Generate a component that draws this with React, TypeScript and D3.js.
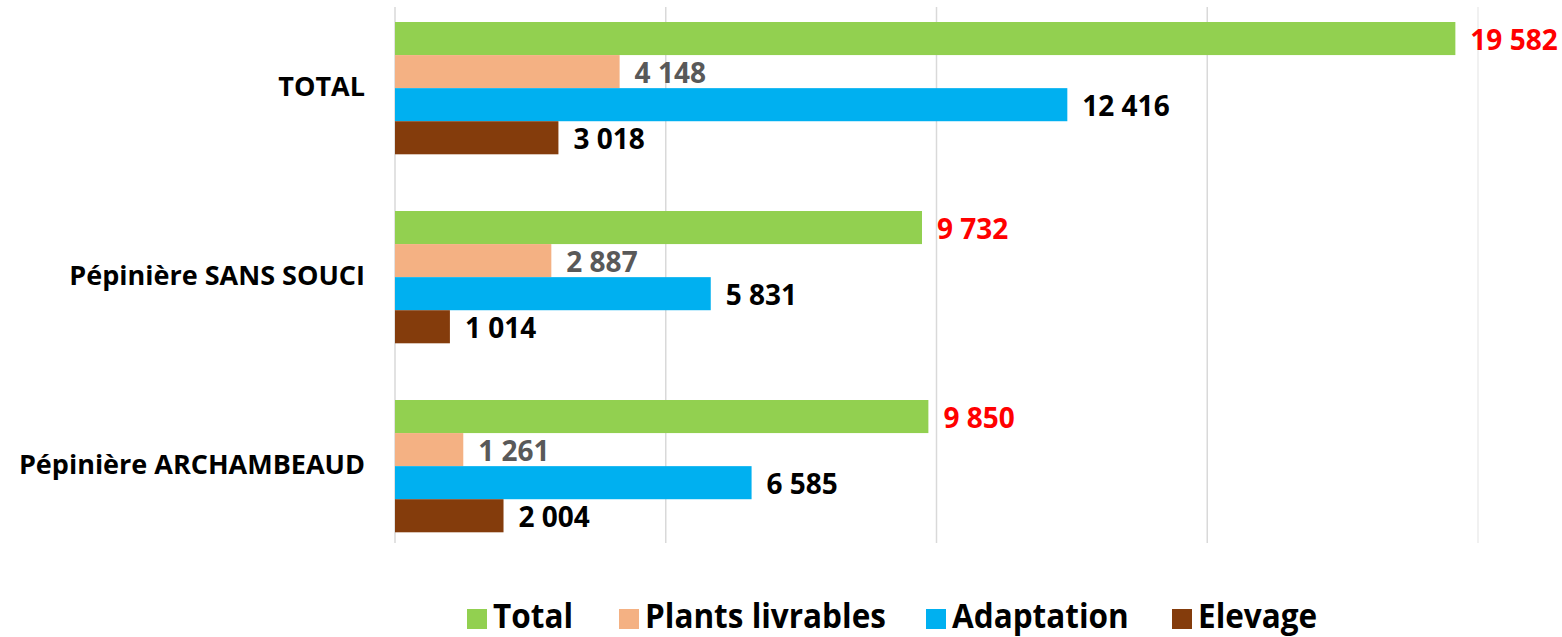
import React from "react";
import * as d3 from "d3";

const categories = ["TOTAL", "Pépinière SANS SOUCI", "Pépinière ARCHAMBEAUD"];
const seriesNames = ["Total", "Plants livrables", "Adaptation", "Elevage"];
const totalValues = [19582, 9732, 9850];
const plantsValues = [4148, 2887, 1261];
const adaptationValues = [12416, 5831, 6585];
const elevageValues = [3018, 1014, 2004];
const xTicks = [0, 5000, 10000, 15000, 20000];

const colors = ["#92D050", "#F4B183", "#00B0F0", "#843C0C"];
const labelColors = ["#FF0000", "#595959", "#000000", "#000000"];

const W = 1562;
const H = 637;
const FONT = "'Open Sans', Lato, sans-serif";

const fmt = (v: number) => d3.format(",")(v).replace(/,/g, " ");

export default function App() {
  const series = [totalValues, plantsValues, adaptationValues, elevageValues];
  const x = d3.scaleLinear().domain([0, 20000]).range([395, 1478]);
  const y = d3
    .scaleBand<string>()
    .domain(categories)
    .range([22, 532.3])
    .paddingInner(0.3)
    .paddingOuter(0);
  const inner = d3
    .scaleBand<string>()
    .domain(seriesNames)
    .range([0, y.bandwidth()])
    .padding(0);

  const legendX = [467, 619, 926, 1172];
  const legendBaseline = 628;

  return (
    <svg
      width={W}
      height={H}
      style={{ position: "absolute", left: 0, top: 0, background: "#fff" }}
      fontFamily={FONT}
    >
      <rect width={W} height={H} fill="#fff" />
      {xTicks.map((t) => (
        <line
          key={t}
          x1={x(t)}
          x2={x(t)}
          y1={7}
          y2={543}
          stroke={t === 20000 ? "#ececec" : "#d9d9d9"}
          strokeWidth={1.5}
        />
      ))}
      {categories.map((c, ci) => (
        <g key={c}>
          <text
            x={365}
            y={(y(c) as number) + y.bandwidth() / 2 - 3}
            textAnchor="end"
            dominantBaseline="central"
            fontWeight="bold"
            fontSize={27}
            fill="#000"
          >
            {c}
          </text>
          {seriesNames.map((s, si) => {
            const v = series[si][ci];
            const by = (y(c) as number) + (inner(s) as number);
            return (
              <g key={s}>
                <rect
                  x={x(0)}
                  y={by}
                  width={x(v) - x(0)}
                  height={inner.bandwidth()}
                  fill={colors[si]}
                />
                <text
                  x={x(v) + 15}
                  y={by + inner.bandwidth() / 2}
                  dominantBaseline="central"
                  fontWeight="bold"
                  fontSize={28}
                  fill={labelColors[si]}
                >
                  {fmt(v)}
                </text>
              </g>
            );
          })}
        </g>
      ))}
      {seriesNames.map((s, si) => (
        <g key={s}>
          <rect x={legendX[si]} y={609} width={20} height={20} fill={colors[si]} />
          <text
            x={0}
            y={0}
            fontWeight="bold"
            fontSize={31.5}
            fill="#000"
            transform={`translate(${legendX[si] + 26},${legendBaseline}) scale(1,1.1)`}
          >
            {s}
          </text>
        </g>
      ))}
    </svg>
  );
}
